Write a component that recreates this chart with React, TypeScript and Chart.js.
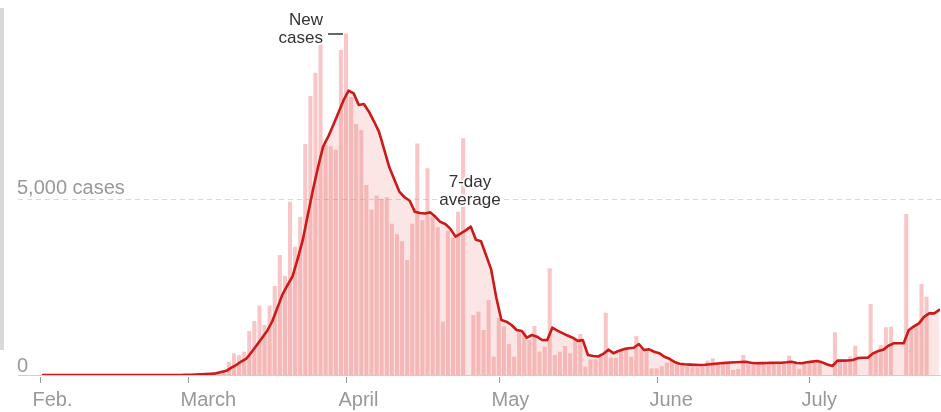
import React, { useEffect, useRef } from "react";
import { Chart, registerables } from "chart.js";
Chart.register(...registerables);

// x values are days since Feb. 1
const monthTicks = [0, 29, 60, 90, 121, 151];
const monthLabels = ["Feb.", "March", "April", "May", "June", "July"];
const yTicks = [0, 5000];
const yTickLabels = ["0", "5,000 cases"];

// New cases per day, Feb. 1 (index 0) to July 25 (null = no report)
const dailyCases: (number | null)[] = [
  null, null, null, null, null, null, null, null, null, null,
  null, null, null, null, null, null, null, null, null, null,
  null, null, null, null, null, null, null, 5, 10, 10,
  15, 20, 30, 60, 90, 110, 378, 616, 568, 662,
  1250, 1534, 1970, 1420, 1970, 2528, 3409, 2812, 4924, 3645,
  4498, 6563, 7926, 8589, 9422, 6550, 6500, 6400, 9233, 9700,
  7900, 7130, 6960, 5400, 4700, 5100, 5000, 5050, 4300, 4000,
  3800, 3267, 4300, 6580, 4400, 5870, 4500, 4200, 1515, 4100,
  3900, 4640, 6724, null, 1704, 1800, 1278, 2130, 520, 1620,
  1380, 880, 520, 1278, 1260, 994, 1392, 662, 804, 3030,
  568, 662, 824, 616, 994, 1165, 236, 446, 446, 520,
  1770, 490, 490, 710, 787, 520, 1108, 758, 710, 190,
  190, 250, 350, 400, 320, 280, 250, 230, 220, 250,
  407, 473, 330, 320, 330, 142, 170, 568, 330, 340,
  320, 330, 300, 340, 320, 330, 550, 360, 180, 330,
  340, 350, 340, null, null, 1212, 400, 420, 530, 833,
  null, null, 2017, 634, 852, 1355, 1373, null, null, 4574,
  1298, 1420, 2585, 2225, null, null,
];

// 7-day average, Feb. 1 (index 0) to July 26
const weeklyAverage: number[] = [
  0, 0, 0, 0, 0, 0, 0, 0, 0, 0,
  0, 0, 0, 0, 0, 0, 0, 0, 0, 0,
  0, 0, 0, 0, 0, 0, 0, 0, 5, 8,
  12, 18, 25, 35, 47, 85, 120, 210, 290, 390,
  474, 660, 850, 1050, 1250, 1520, 1900, 2280, 2550, 2800,
  3300, 3830, 4550, 5255, 5900, 6486, 6770, 7100, 7450, 7800,
  8077, 8000, 7670, 7700, 7480, 7200, 6900, 6400, 5900, 5550,
  5200, 5050, 4950, 4640, 4600, 4590, 4620, 4500, 4350, 4290,
  4150, 3930, 4020, 4110, 4214, 3840, 3800, 3400, 3000, 2200,
  1560, 1515, 1420, 1278, 1250, 1060, 1136, 1089, 994, 990,
  1345, 1260, 1190, 1120, 1060, 970, 990, 568, 540, 525,
  600, 720, 620, 680, 730, 760, 776, 880, 710, 730,
  660, 620, 520, 460, 370, 320, 305, 295, 288, 284,
  290, 305, 320, 335, 345, 355, 362, 370, 378, 350,
  332, 338, 342, 345, 348, 350, 360, 378, 340, 335,
  360, 380, 398, 360, 300, 256, 407, 407, 410, 426,
  480, 492, 495, 616, 680, 720, 830, 900, 900, 900,
  1278, 1380, 1468, 1650, 1752, 1752, 1850,
];

const FONT = '"Liberation Sans", Arial, Helvetica, sans-serif';

export default function App() {
  const ref = useRef<HTMLCanvasElement | null>(null);

  useEffect(() => {
    if (!ref.current) return;
    const barData = dailyCases
      .map((v, i) => (v == null ? null : { x: i + 0.5, y: v }))
      .filter((p) => p !== null) as { x: number; y: number }[];
    const lineData = weeklyAverage.map((v, i) => ({ x: i, y: v }));

    const decor = {
      id: "decor",
      beforeDatasetsDraw(chart: any) {
        const { ctx, chartArea, scales } = chart;
        const y = scales.y;
        ctx.save();
        const gy = Math.round(y.getPixelForValue(yTicks[1])) + 0.5;
        ctx.strokeStyle = "#d9d9d9";
        ctx.lineWidth = 1;
        ctx.setLineDash([5, 4]);
        ctx.beginPath();
        ctx.moveTo(chartArea.left, gy);
        ctx.lineTo(chartArea.right + 1, gy);
        ctx.stroke();
        ctx.setLineDash([]);
        const by = Math.round(y.getPixelForValue(yTicks[0])) + 0.5;
        ctx.strokeStyle = "#cfcfcf";
        ctx.beginPath();
        ctx.moveTo(chartArea.left, by);
        ctx.lineTo(chartArea.right + 1, by);
        ctx.stroke();
        ctx.restore();
      },
      afterDraw(chart: any) {
        const { ctx, chartArea, scales } = chart;
        const x = scales.x;
        const y = scales.y;
        ctx.save();
        // y labels
        ctx.fillStyle = "#999999";
        ctx.font = `20px ${FONT}`;
        ctx.textAlign = "left";
        ctx.textBaseline = "alphabetic";
        yTicks.forEach((t, k) => {
          const py = y.getPixelForValue(t);
          ctx.fillText(yTickLabels[k], chartArea.left - 1, py - (k === 0 ? 3 : 5));
        });
        // x ticks & labels
        const base = Math.round(y.getPixelForValue(0));
        monthTicks.forEach((t, k) => {
          const px = Math.round(x.getPixelForValue(t - 0.5)) + 0.5;
          ctx.strokeStyle = "#9a9a9a";
          ctx.lineWidth = 1;
          ctx.beginPath();
          ctx.moveTo(px, base + 2);
          ctx.lineTo(px, base + 8);
          ctx.stroke();
          ctx.fillStyle = "#999999";
          ctx.font = `20px ${FONT}`;
          ctx.textAlign = "left";
          ctx.fillText(monthLabels[k], px - 8, base + 31);
        });
        // annotations
        const halo = (txt: string, tx: number, ty: number, align: CanvasTextAlign) => {
          ctx.font = `17px ${FONT}`;
          ctx.textAlign = align;
          ctx.lineJoin = "round";
          ctx.strokeStyle = "rgba(255,255,255,0.9)";
          ctx.lineWidth = 4;
          ctx.strokeText(txt, tx, ty);
          ctx.fillStyle = "#333333";
          ctx.fillText(txt, tx, ty);
        };
        halo("New", 323, 25, "right");
        halo("cases", 323, 43, "right");
        ctx.strokeStyle = "#333333";
        ctx.lineWidth = 1.5;
        ctx.beginPath();
        ctx.moveTo(328, 34);
        ctx.lineTo(343, 34);
        ctx.stroke();
        halo("7-day", 470, 187, "center");
        halo("average", 470, 205, "center");
        ctx.lineWidth = 1.2;
        ctx.beginPath();
        ctx.moveTo(470.5, 209);
        ctx.lineTo(470.5, 225);
        ctx.stroke();
        ctx.restore();
      },
    };

    const chart = new Chart(ref.current, {
      type: "bar",
      data: {
        datasets: [
          {
            type: "line",
            data: lineData,
            fill: "origin",
            backgroundColor: "rgba(235,110,110,0.18)",
            borderWidth: 0,
            pointRadius: 0,
            order: 3,
          } as any,
          {
            type: "bar",
            data: barData,
            backgroundColor: "rgba(238,118,118,0.42)",
            categoryPercentage: 1,
            barPercentage: 0.8,
            order: 2,
          } as any,
          {
            type: "line",
            data: lineData,
            fill: false,
            borderColor: "#cc1a1a",
            borderWidth: 2.6,
            pointRadius: 0,
            borderJoinStyle: "round",
            borderCapStyle: "round",
            order: 1,
          } as any,
        ],
      },
      options: {
        animation: false,
        responsive: false,
        devicePixelRatio: 1,
        layout: { padding: { left: 18, right: 1, top: 5, bottom: 37 } },
        plugins: { legend: { display: false }, tooltip: { enabled: false } },
        scales: {
          x: { type: "linear", min: -4.91, max: 176.13, offset: false, display: false },
          y: { type: "linear", min: 0, max: 10511, display: false },
        },
      },
      plugins: [decor],
    });
    return () => chart.destroy();
  }, []);

  return (
    <div style={{ position: "absolute", left: 0, top: 0, width: 941, height: 412, background: "#fff" }}>
      <div style={{ position: "absolute", left: 0, top: 8, width: 4, height: 342, background: "#d9d9d9" }} />
      <canvas ref={ref} width={941} height={412} style={{ position: "absolute", left: 0, top: 0, width: 941, height: 412 }} />
    </div>
  );
}
